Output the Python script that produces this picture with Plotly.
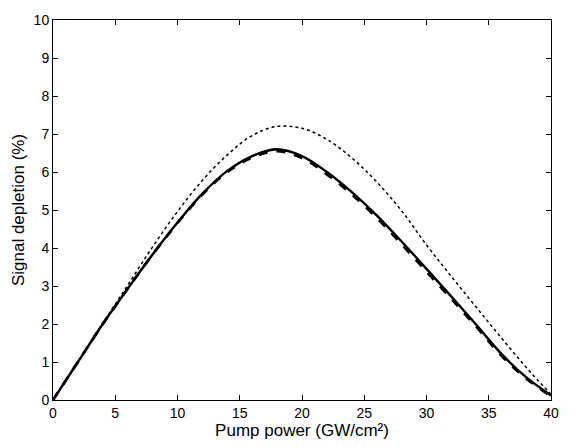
import plotly.graph_objects as go

pump_power = [0, 2, 4, 6, 8, 10, 12, 14, 16, 18, 20, 22, 24, 26, 28, 30, 32, 34, 36, 38, 40]

depletion_solid = [0, 1.0, 2.0, 2.93, 3.83, 4.67, 5.43, 6.03, 6.42, 6.6, 6.42, 6.0, 5.47, 4.86, 4.17, 3.45, 2.72, 1.98, 1.22, 0.6, 0.12]
depletion_dashed = [0, 1.0, 2.0, 2.93, 3.83, 4.66, 5.41, 6.0, 6.38, 6.55, 6.37, 5.94, 5.41, 4.8, 4.1, 3.38, 2.66, 1.93, 1.17, 0.57, 0.1]
depletion_dotted = [0, 1.0, 2.02, 3.02, 4.03, 4.96, 5.78, 6.45, 6.96, 7.2, 7.15, 6.86, 6.37, 5.74, 4.98, 4.08, 3.25, 2.44, 1.64, 0.86, 0.15]

x_ticks = [0, 5, 10, 15, 20, 25, 30, 35, 40]
y_ticks = [0, 1, 2, 3, 4, 5, 6, 7, 8, 9, 10]

fig = go.Figure()
fig.add_trace(go.Scatter(x=pump_power, y=depletion_dotted, mode="lines",
                         line=dict(color="black", width=1.5, dash="dot", shape="spline", smoothing=1.0)))
fig.add_trace(go.Scatter(x=pump_power, y=depletion_dashed, mode="lines",
                         line=dict(color="black", width=2.8, dash="dash", shape="spline", smoothing=1.0)))
fig.add_trace(go.Scatter(x=pump_power, y=depletion_solid, mode="lines",
                         line=dict(color="black", width=2.4, shape="spline", smoothing=1.0)))

font_family = "Liberation Sans, Arial, Helvetica, sans-serif"
axis_common = dict(
    showline=True, linecolor="black", linewidth=1, mirror="ticks",
    ticks="inside", ticklen=5, tickwidth=1, tickcolor="black",
    showgrid=False, zeroline=False,
    tickfont=dict(family=font_family, size=14, color="black"),
)

fig.update_layout(
    width=571, height=447,
    margin=dict(l=53, r=18, t=12, b=45),
    paper_bgcolor="white", plot_bgcolor="white",
    showlegend=False,
    xaxis=dict(range=[0, 40], tickvals=x_ticks, ticktext=[str(v) for v in x_ticks],
               title=dict(text="Pump power (GW/cm²)", standoff=2,
                          font=dict(family=font_family, size=17, color="black")),
               **axis_common),
    yaxis=dict(range=[0, 10], tickvals=y_ticks, ticktext=[str(v) for v in y_ticks],
               title=dict(text="Signal depletion (%)", standoff=4,
                          font=dict(family=font_family, size=17, color="black")),
               **axis_common),
)

fig.write_html("out.html")
